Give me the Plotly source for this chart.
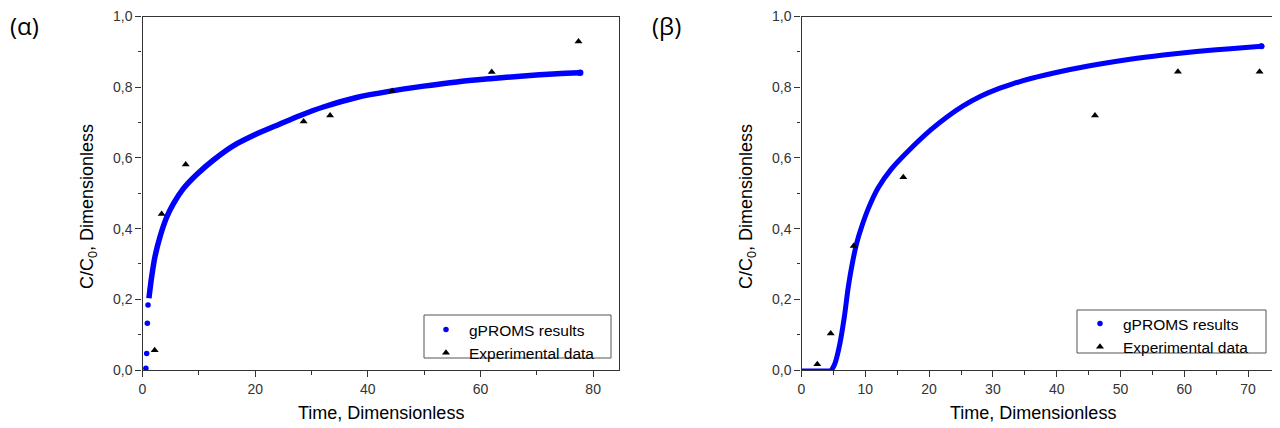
import plotly.graph_objects as go

W, H = 1280, 428
OFF = 8  # the page places the figure 8 px in from the top-left corner

# ---------------- data ----------------
# Panel (α)
a_sim_dots_x = [0.6, 0.74, 0.86, 0.98]
a_sim_dots_y = [0.005, 0.047, 0.132, 0.184]
a_sim_curve_x = [1.14, 1.63, 2.22, 3.11, 4.29, 5.47, 7.25, 9.62, 12.6, 16.1, 20.3, 24.4,
                 28.0, 32.1, 38.0, 44.0, 49.9, 55.8, 61.7, 67.6, 73.6, 77.7]
a_sim_curve_y = [0.203, 0.264, 0.321, 0.377, 0.432, 0.470, 0.513, 0.553, 0.594, 0.634, 0.668, 0.696,
                 0.720, 0.744, 0.771, 0.789, 0.803, 0.815, 0.824, 0.832, 0.838, 0.841]
a_exp_x = [2.16, 3.4, 7.67, 28.6, 33.3, 44.3, 62.0, 77.4]
a_exp_y = [0.056, 0.441, 0.581, 0.703, 0.720, 0.789, 0.843, 0.929]

# Panel (β)
b_sim_flat_x = [0.0, 4.73]
b_sim_flat_y = [0.0, 0.0]
b_sim_curve_x = [4.73, 5.25, 6.03, 6.72, 7.34, 7.97, 8.65, 9.44, 10.5, 12.0, 14.1, 16.7, 20.3,
                 22.8, 25.4, 28.0, 30.6, 33.2, 35.8, 41.0, 46.3, 51.5, 56.7, 61.9, 67.2, 72.1]
b_sim_curve_y = [0.0, 0.019, 0.076, 0.151, 0.236, 0.302, 0.359, 0.406, 0.458, 0.515, 0.569, 0.619, 0.680,
                 0.716, 0.748, 0.774, 0.794, 0.810, 0.824, 0.846, 0.864, 0.879, 0.891, 0.901, 0.909, 0.916]
b_exp_x = [2.48, 4.58, 8.18, 15.96, 46.0, 59.0, 71.8]
b_exp_y = [0.016, 0.103, 0.351, 0.545, 0.720, 0.844, 0.844]

sim_name = "gPROMS results"
exp_name = "Experimental data"
x_title = "Time, Dimensionless"
y_title = "C/C<sub>0</sub>, Dimensionless"
panel_labels = ["(α)", "(β)"]

# ---------------- style ----------------
FONT = "Liberation Sans, Arial, sans-serif"
BLUE = "#0000FF"
AX = "#333333"


def fx(px):
    return (px - OFF) / W


def fy(py):
    return 1 - (py - OFF) / H


fig = go.Figure()


def add_panel(xa, ya, leg, dots_x, dots_y, curves, ex, ey):
    for cx, cy, w in curves:
        fig.add_trace(go.Scatter(x=cx, y=cy, mode="lines", xaxis=xa, yaxis=ya,
                                 line=dict(color=BLUE, width=w, shape="spline", smoothing=0.8),
                                 showlegend=False, hoverinfo="skip"))
        fig.add_trace(go.Scatter(x=[cx[-1]], y=[cy[-1]], mode="markers", xaxis=xa, yaxis=ya,
                                 marker=dict(color=BLUE, size=w + 1),
                                 showlegend=False, hoverinfo="skip"))
    fig.add_trace(go.Scatter(x=dots_x, y=dots_y, mode="markers", name=sim_name,
                             xaxis=xa, yaxis=ya, legend=leg,
                             marker=dict(color=BLUE, size=5.5, symbol="circle")))
    fig.add_trace(go.Scatter(x=ex, y=ey, mode="markers", name=exp_name,
                             xaxis=xa, yaxis=ya, legend=leg,
                             marker=dict(color="black", size=7, symbol="triangle-up")))


add_panel("x", "y", "legend", a_sim_dots_x, a_sim_dots_y,
          [(a_sim_curve_x, a_sim_curve_y, 5.5)], a_exp_x, a_exp_y)
add_panel("x2", "y2", "legend2", [b_sim_curve_x[-1]], [b_sim_curve_y[-1]],
          [(b_sim_flat_x, b_sim_flat_y, 3), (b_sim_curve_x, b_sim_curve_y, 5)], b_exp_x, b_exp_y)

ydom = [fy(370), fy(16.5)]


def xaxis(dom, rng, dtick, minor, anchor):
    return dict(domain=dom, range=rng, dtick=dtick, tick0=0, anchor=anchor,
                showgrid=False, zeroline=False, automargin=False,
                showline=True, linecolor=AX, linewidth=1.3, mirror=True,
                ticks="outside", ticklen=6, tickwidth=1.2, tickcolor=AX,
                minor=dict(ticks="outside", ticklen=3.5, tickwidth=1.2, tickcolor=AX, dtick=minor, tick0=0),
                tickfont=dict(family=FONT, size=14, color=AX))


def yaxis(anchor):
    return dict(domain=ydom, range=[0, 1.0], dtick=0.2, tick0=0, tickformat=".1f", anchor=anchor,
                showgrid=False, zeroline=False, automargin=False,
                showline=True, linecolor=AX, linewidth=1.3, mirror=True,
                ticks="outside", ticklen=6, tickwidth=1.2, tickcolor=AX,
                minor=dict(ticks="outside", ticklen=3.5, tickwidth=1.2, tickcolor=AX, dtick=0.1, tick0=0),
                tickfont=dict(family=FONT, size=14, color=AX))


legend_style = dict(xanchor="left", yanchor="top", bgcolor="rgba(0,0,0,0)",
                    borderwidth=0, font=dict(family=FONT, size=15.5, color="black"),
                    itemwidth=36, tracegroupgap=0)

fig.update_layout(
    template="none",
    width=W, height=H, margin=dict(l=0, r=0, t=0, b=0, pad=0), autosize=False,
    paper_bgcolor="white", plot_bgcolor="white",
    separators=",.",
    xaxis=xaxis([fx(142.5), fx(618.5)], [0, 84.5], 20, 10, "y"),
    yaxis=yaxis("x"),
    xaxis2=xaxis([fx(801.5), fx(1280)], [0, 75.0], 10, 5, "y2"),
    yaxis2=yaxis("x2"),
    legend=legend_style | dict(x=fx(423), y=fy(313)),
    legend2=legend_style | dict(x=fx(1077), y=fy(307)),
)

# legend frames
shapes = []
for (x0, y0, x1, y1) in [(424, 315, 611, 358), (1077, 310, 1266, 353)]:
    shapes.append(dict(type="rect", xref="paper", yref="paper",
                       x0=fx(x0), x1=fx(x1), y0=fy(y1), y1=fy(y0),
                       line=dict(color="#555555", width=1), fillcolor="white", layer="above"))
fig.update_layout(shapes=shapes)

ann = []
for cx in [(142.5 + 618.5) / 2, (801.5 + 1280) / 2 - 8]:
    ann.append(dict(text=x_title, x=fx(cx), y=fy(413), xref="paper", yref="paper",
                    showarrow=False, font=dict(family=FONT, size=18, color="black"),
                    xanchor="center", yanchor="middle"))
for cx in [88, 747]:
    ann.append(dict(text=y_title, x=fx(cx), y=fy(207), xref="paper", yref="paper",
                    showarrow=False, textangle=-90, font=dict(family=FONT, size=18, color="black"),
                    xanchor="center", yanchor="middle"))
for lab, cx in zip(panel_labels, [24, 666]):
    ann.append(dict(text=lab, x=fx(cx), y=fy(26), xref="paper", yref="paper",
                    showarrow=False, font=dict(family="Open Sans, sans-serif", size=24, color="black"),
                    xanchor="center", yanchor="middle"))
fig.update_layout(annotations=ann)

fig.write_html("out.html")
